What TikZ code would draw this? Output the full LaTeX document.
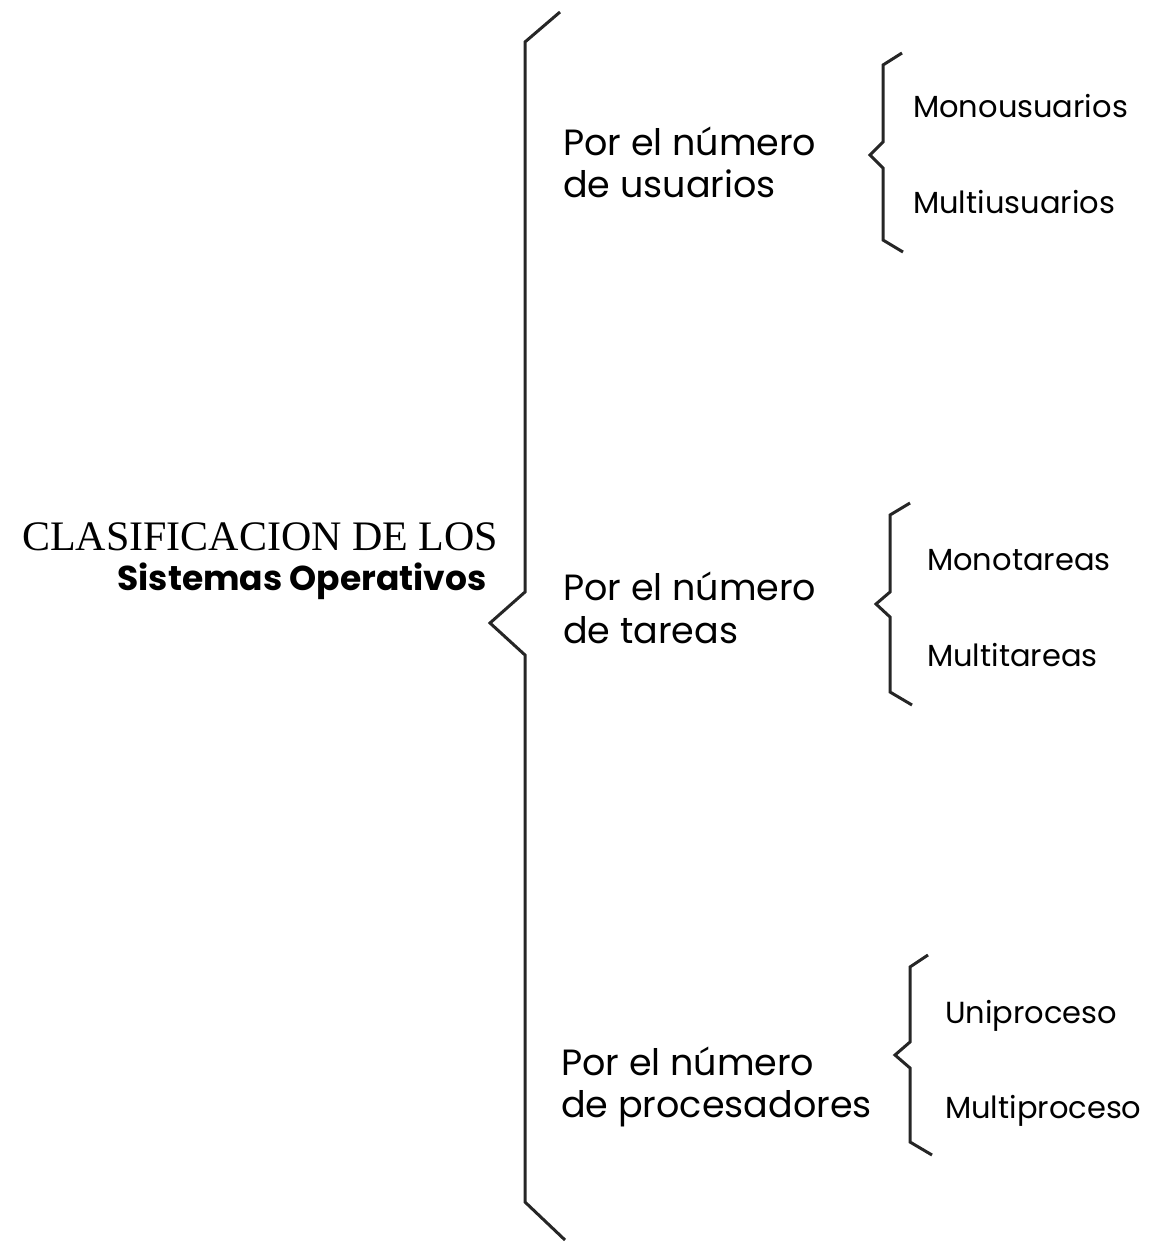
\documentclass[tikz,border=0pt]{standalone}
\usepackage{fontspec}
\setmainfont{Poppins}
\newfontfamily\titleserif{Liberation Serif}
\begin{document}
\begin{tikzpicture}[x=1pt,y=-1pt,
  brace/.style={draw=black!85,line width=3pt,line join=miter},
  cat/.style={anchor=base west,inner sep=0pt,font=\fontsize{36.5}{36}\selectfont},
  leaf/.style={anchor=base west,inner sep=0pt,font=\fontsize{30.5}{30}\selectfont}]
\useasboundingbox (0,0) rectangle (1152,1243);
% title
\node[anchor=base west,inner sep=0pt,font=\titleserif\fontsize{42}{42}\selectfont] (t1) at (22,550) {CLASIFICACION DE LOS};
\node[anchor=base east,inner sep=0pt,font=\bfseries\fontsize{34.5}{34}\selectfont] (t2) at (487,590) {Sistemas Operativos};
% main brace
\draw[brace] (560,12) -- (525,42) -- (525,592) -- (490,623) -- (525,655) -- (525,1202) -- (565,1240);
% categories
\node[cat] (u1) at (563,155) {Por el número};
\node[cat] (u2) at (563,197) {de usuarios};
\node[cat] (r1) at (563,600) {Por el número};
\node[cat] (r2) at (563,643) {de tareas};
\node[cat] (p1) at (561,1075) {Por el número};
\node[cat] (p2) at (561,1117) {de procesadores};
% sub braces
\draw[brace] (902,53) -- (883,65) -- (883,142) -- (870,155) -- (883,168) -- (883,240) -- (903,252);
\draw[brace] (910,503) -- (890,515) -- (890,592) -- (876,604) -- (890,617) -- (890,692) -- (912,705);
\draw[brace] (928,955) -- (910,967) -- (910,1042) -- (895,1055) -- (910,1068) -- (910,1142) -- (932,1155);
% leaves
\node[leaf] (l1) at (913,117) {Monousuarios};
\node[leaf] (l2) at (913,213) {Multiusuarios};
\node[leaf] (l3) at (927,570) {Monotareas};
\node[leaf] (l4) at (927,666) {Multitareas};
\node[leaf] (l5) at (945,1023) {Uniproceso};
\node[leaf] (l6) at (945,1118) {Multiproceso};
\end{tikzpicture}
\end{document}
